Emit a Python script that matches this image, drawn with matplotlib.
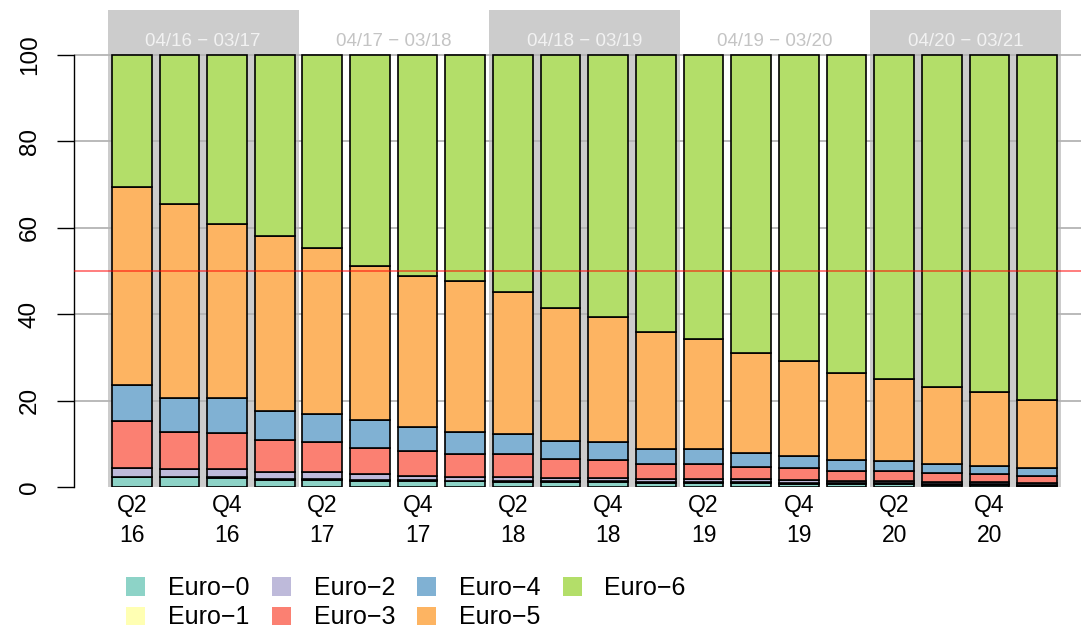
import matplotlib
matplotlib.use("Agg")
import matplotlib.pyplot as plt
from matplotlib.patches import Patch
import numpy as np

plt.rcParams['font.family'] = ['Liberation Sans', 'DejaVu Sans']

quarters = ["Q2\n16", "", "Q4\n16", "", "Q2\n17", "", "Q4\n17", "", "Q2\n18", "", "Q4\n18", "",
            "Q2\n19", "", "Q4\n19", "", "Q2\n20", "", "Q4\n20", ""]
periods = ["04/16 \u2212 03/17", "04/17 \u2212 03/18", "04/18 \u2212 03/19", "04/19 \u2212 03/20", "04/20 \u2212 03/21"]
series_names = ["Euro\u22120", "Euro\u22121", "Euro\u22122", "Euro\u22123", "Euro\u22124", "Euro\u22125", "Euro\u22126"]
colors = ["#8DD3C7", "#FFFFB3", "#BEBADA", "#FB8072", "#80B1D3", "#FDB462", "#B3DE69"]

euro0 = [2.2, 2.2, 2.1, 1.55, 1.6, 1.46, 1.4, 1.3, 1.16, 1.16, 1.1, 0.93, 1.0, 0.93, 0.77, 0.7, 0.7, 0.5, 0.4, 0.3]
euro1 = [0.2] * 20
euro2 = [2.1, 1.8, 1.9, 1.75, 1.6, 1.24, 1.0, 0.9, 1.04, 0.79, 0.8, 0.72, 0.7, 0.67, 0.63, 0.56, 0.56, 0.5, 0.5, 0.5]
euro3 = [10.8, 8.6, 8.4, 7.4, 7.0, 6.1, 5.8, 5.2, 5.2, 4.35, 4.1, 3.4, 3.35, 2.8, 2.7, 2.14, 2.34, 2.0, 1.8, 1.6]
euro4 = [8.3, 7.7, 7.9, 6.8, 6.4, 6.5, 5.4, 5.1, 4.6, 4.1, 4.1, 3.55, 3.55, 3.2, 2.95, 2.65, 2.3, 2.1, 2.0, 1.9]
euro5 = [45.8, 45.0, 40.4, 40.4, 38.5, 35.7, 35.0, 35.0, 32.9, 30.8, 29.1, 27.1, 25.5, 23.2, 21.95, 20.15, 18.9, 17.8, 17.1, 15.6]
euro6 = [30.6, 34.5, 39.1, 41.9, 44.7, 48.8, 51.2, 52.3, 54.9, 58.6, 60.6, 64.1, 65.7, 69.0, 70.8, 73.6, 75.0, 76.9, 78.0, 79.9]
series = [euro0, euro1, euro2, euro3, euro4, euro5, euro6]

W, H = 1081, 628
fig = plt.figure(figsize=(W / 100, H / 100), dpi=100)
ax = fig.add_axes([74 / W, 1 - 487 / H, 1 - 74 / W, (487 - 10) / H])

x = np.arange(len(quarters))
ax.set_xlim(-1.211, 19.92)
ax.set_ylim(0, 110.4)

# shaded periods
for k, lab in enumerate(periods):
    start = 4 * k - 0.5
    end = start + 4
    if k % 2 == 0:
        ax.axvspan(start, end, color="#cccccc", zorder=0, lw=0)
        tc = "#f2f2f2"
    else:
        tc = "#c4c4c4"
    ax.text(start + 2, 103.2, lab, ha="center", va="center", fontsize=13.5, color=tc, zorder=1)

# gridlines
for g in [20, 40, 60, 80, 100]:
    ax.axhline(g, color="#b4b4b4", lw=1.3, zorder=1)

bottom = np.zeros(len(x))
for vals, col, name in zip(series, colors, series_names):
    v = np.array(vals)
    ax.bar(x, v, bottom=bottom, width=0.833, color=col, edgecolor="black", linewidth=1.2,
           zorder=2, label=name)
    bottom += v

ax.axhline(50, color="red", alpha=0.55, lw=1.3, zorder=3)

for s in ["top", "right", "bottom"]:
    ax.spines[s].set_visible(False)
ax.spines["left"].set_bounds(0, 100)
ax.spines["left"].set_linewidth(1.0)

ax.set_yticks([0, 20, 40, 60, 80, 100])
ax.set_yticklabels(["0", "20", "40", "60", "80", "100"], rotation=90, va="center", fontsize=17.5)
ax.tick_params(axis="y", length=12, width=1.0, pad=12)

ax.set_xticks(x)
ax.set_xticklabels(quarters, fontsize=16.5, linespacing=1.4)
ax.tick_params(axis="x", length=0, pad=5)

handles = [Patch(facecolor=c, edgecolor="none") for c in colors]
fig.legend(handles, series_names, loc="upper left", bbox_to_anchor=(126 / W, 1 - 576 / H),
           ncol=4, frameon=False, fontsize=18, handlelength=0.76, handleheight=0.76,
           handletextpad=0.92, columnspacing=0.88, labelspacing=0.22, borderpad=0, borderaxespad=0)

fig.savefig("out.png", dpi=100)
